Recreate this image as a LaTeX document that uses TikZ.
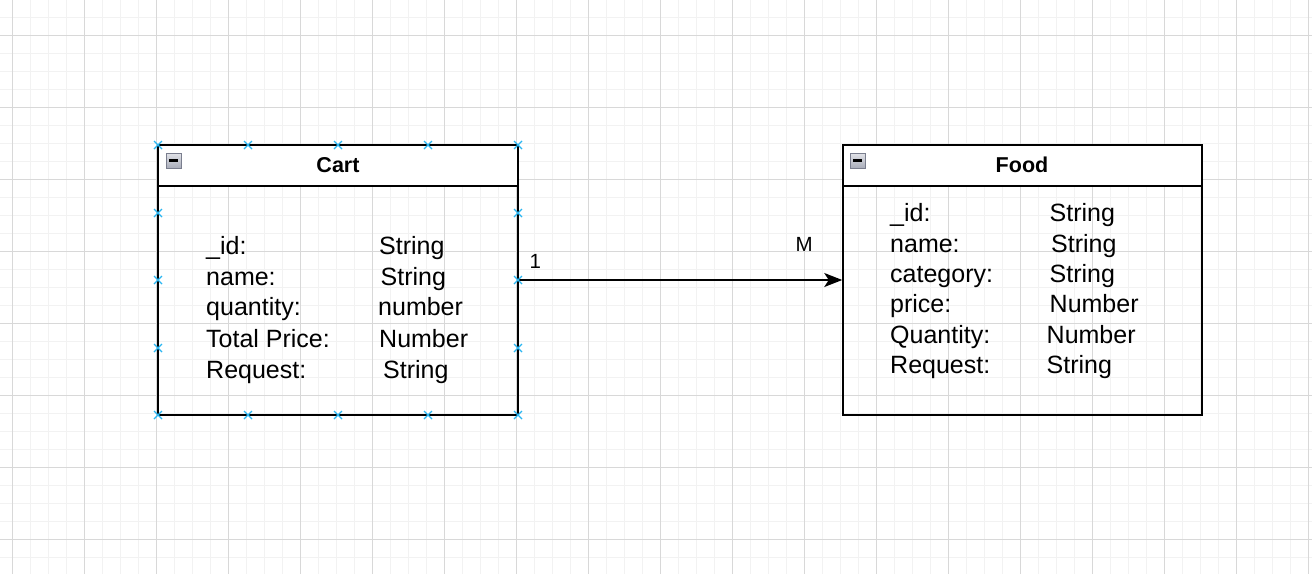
\documentclass[tikz,border=0pt]{standalone}
\usepackage{fontspec}
\setmainfont{Liberation Sans}
\usetikzlibrary{arrows.meta}
\definecolor{gridminor}{HTML}{F2F2F2}
\definecolor{gridmajor}{HTML}{D8D8D8}
\definecolor{selblue}{HTML}{29B6F2}
\definecolor{icontop}{HTML}{E2E3E8}
\definecolor{iconbot}{HTML}{A9ADBA}
\definecolor{iconborder}{HTML}{7A7E8E}
\tikzset{
  entity/.style={draw=black, line width=1.5pt, inner sep=0pt, minimum height=270pt},
  header/.style={fill=white, draw=black, line width=1.5pt, inner sep=0pt, minimum height=41pt},
  field/.style={anchor=base west, inner sep=0pt, font=\fontsize{25}{29}\selectfont},
  title/.style={inner sep=0pt, font=\bfseries\fontsize{21.5}{25}\selectfont},
  lbl/.style={anchor=base west, inner sep=0pt, font=\fontsize{20.5}{24}\selectfont},
  iconbox/.style={draw=iconborder, line width=1pt, top color=icontop, bottom color=iconbot,
    minimum width=15pt, minimum height=15pt, inner sep=0pt},
  conn/.style={draw=black, line width=1.5pt, -{Stealth[length=18pt,width=14pt,inset=4.5pt]}},
  bluex/.pic={\draw[selblue, line width=1.3pt] (-4,-4)--(4,4) (-4,4)--(4,-4);}
}
\begin{document}
\begin{tikzpicture}[x=1pt,y=-1pt]
\useasboundingbox (0,0) rectangle (1312,574);
\fill[white] (0,0) rectangle (1312,574);
% grid
\foreach \x in {12,30,...,1310} \draw[gridminor, line width=1pt] (\x,0) -- (\x,574);
\foreach \y in {17,35,...,574} \draw[gridminor, line width=1pt] (0,\y) -- (1312,\y);
\foreach \x in {12,84,...,1310} \draw[gridmajor, line width=1pt] (\x,0) -- (\x,574);
\foreach \y in {35,107,...,574} \draw[gridmajor, line width=1pt] (0,\y) -- (1312,\y);

% Cart entity
\node[header, minimum width=360pt] (carthead) at (338,165.5) {};
\node[entity, minimum width=360pt] (cart) at (338,280) {};
\node[title] (carttitle) at (338,165) {Cart};
\node[iconbox] (carticon) at (173.5,160.5) {};
\draw[black, line width=2.2pt] ([xshift=3.5pt]carticon.west) -- ([xshift=-3.5pt]carticon.east);

\node[field] (c1a) at (206,254) {\_id:};
\node[field] (c2a) at (206,285) {name:};
\node[field] (c3a) at (206,315) {quantity:};
\node[field] (c4a) at (206,347) {Total Price:};
\node[field] (c5a) at (206,378) {Request:};
\node[field] (c1b) at (379,254) {String};
\node[field] (c2b) at (380.5,285) {String};
\node[field] (c3b) at (378,315) {number};
\node[field] (c4b) at (379,347) {Number};
\node[field] (c5b) at (383,378) {String};

% Food entity
\node[header, minimum width=359pt] (foodhead) at (1022.5,165.5) {};
\node[entity, minimum width=359pt] (food) at (1022.5,280) {};
\node[title] (foodtitle) at (1022,165) {Food};
\node[iconbox] (foodicon) at (857.5,160.5) {};
\draw[black, line width=2.2pt] ([xshift=3.5pt]foodicon.west) -- ([xshift=-3.5pt]foodicon.east);

\node[field] (f1a) at (890,221) {\_id:};
\node[field] (f2a) at (890,252) {name:};
\node[field] (f3a) at (890,282) {category:};
\node[field] (f4a) at (890,312) {price:};
\node[field] (f5a) at (890,343) {Quantity:};
\node[field] (f6a) at (890,373) {Request:};
\node[field] (f1b) at (1049.5,221) {String};
\node[field] (f2b) at (1051,252) {String};
\node[field] (f3b) at (1049.5,282) {String};
\node[field] (f4b) at (1049.5,312) {Number};
\node[field] (f5b) at (1046.5,343) {Number};
\node[field] (f6b) at (1046.5,373) {String};

% connector
\draw[conn] (cart.east) -- (food.west);
\node[lbl] (one) at (529.5,268) {1};
\node[lbl] (many) at (795.5,251) {M};

% selection markers
\foreach \x in {158,248,338,428,518} {
  \pic at (\x,145) {bluex};
  \pic at (\x,415) {bluex};
}
\foreach \y in {213,280,348} {
  \pic at (158,\y) {bluex};
  \pic at (518,\y) {bluex};
}
\end{tikzpicture}
\end{document}
